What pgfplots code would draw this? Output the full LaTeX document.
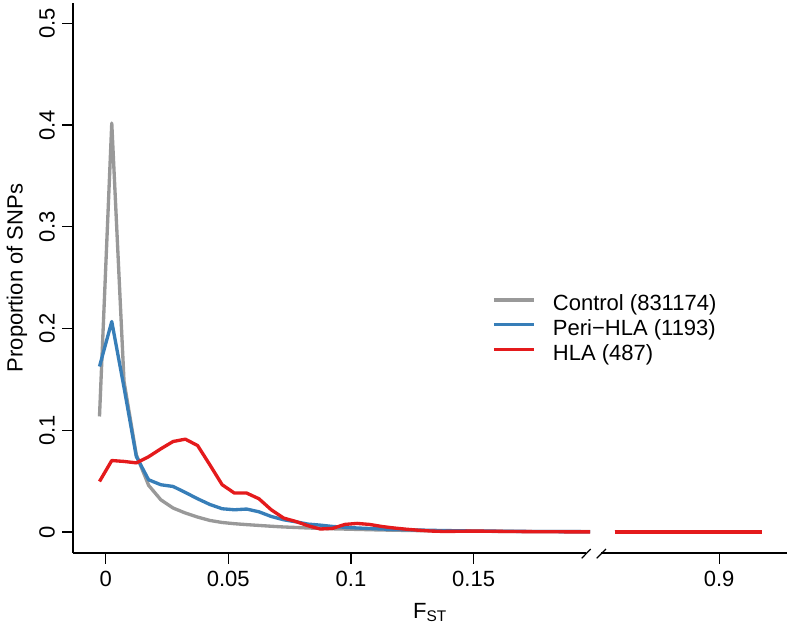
\documentclass[border=0pt]{standalone}
\usepackage{fontspec}
\setmainfont{Liberation Sans}
\usepackage{pgfplots}
\usepackage{pgfplotstable}
\pgfplotsset{compat=1.18}
\definecolor{ctrlgray}{HTML}{999999}
\definecolor{periblue}{HTML}{377EB8}
\definecolor{hlared}{HTML}{E41A1C}
\newcommand{\lbl}{\fontsize{16.5}{20}\selectfont}

% F_ST bins (midpoints), proportion of SNPs per group
\pgfplotstableread{
x       ctrl    peri    hla
-0.0025 0.1136  0.1627  0.0497
0.0025  0.4020  0.2069  0.0703
0.0075  0.1480  0.1420  0.0694
0.0125  0.0760  0.0743  0.0680
0.0175  0.0460  0.0514  0.0740
0.0225  0.0317  0.0465  0.0818
0.0275  0.0236  0.0448  0.0890
0.0325  0.0187  0.0389  0.0913
0.0375  0.0147  0.0327  0.0850
0.0425  0.0114  0.0271  0.0660
0.0475  0.0094  0.0229  0.0465
0.0525  0.0082  0.0219  0.0383
0.0575  0.0073  0.0226  0.0383
0.0625  0.0065  0.0199  0.0327
0.0675  0.0057  0.0153  0.0219
0.0725  0.0050  0.0121  0.0138
0.0775  0.0045  0.0101  0.0104
0.0825  0.0040  0.0078  0.0062
0.0875  0.0036  0.0068  0.0030
0.0925  0.0032  0.0055  0.0036
0.0975  0.0029  0.0047  0.0075
0.1025  0.0026  0.0040  0.0085
0.1075  0.0023  0.0035  0.0075
0.1125  0.0020  0.0030  0.0055
0.1175  0.0018  0.0026  0.0040
0.1225  0.0016  0.0023  0.0028
0.1275  0.0014  0.0020  0.0018
0.1325  0.0012  0.0017  0.0010
0.1375  0.0011  0.0015  0.0006
0.1425  0.0010  0.0013  0.0007
0.1475  0.0009  0.0011  0.0009
0.1525  0.0008  0.0010  0.0009
0.1575  0.0007  0.0009  0.0008
0.1625  0.0007  0.0008  0.0006
0.1675  0.0006  0.0007  0.0005
0.1725  0.0006  0.0006  0.0004
0.1775  0.0005  0.0005  0.0003
0.1825  0.0005  0.0005  0.0003
0.1875  0.0004  0.0004  0.0002
0.1925  0.0004  0.0004  0.0002
0.1975  0.0004  0.0003  0.0002
}\lowfst

\pgfplotstableread{
x       ctrl    peri    hla
0.8575  0       0       0
0.8675  0       0       0
0.8775  0       0       0
0.8875  0       0       0
0.8975  0       0       0
0.9075  0       0       0
0.9175  0       0       0
}\highfst

\pgfplotsset{
  brk/.style={scale only axis, clip=false, height=412.5pt,
    ymin=-0.0206, ymax=0.52,
    axis x line*=bottom,
    x axis line style={-, line width=0.9pt},
    y axis line style={-, line width=0.9pt},
    every tick/.style={black, line width=0.9pt},
    tick align=outside, major tick length=8pt,
    /pgf/number format/fixed,
    /pgf/number format/assume math mode=true,
    tick label style={font=\lbl},
    every axis plot/.append style={line width=2.5pt, line join=round}},
}

\begin{document}
\lbl
\begin{tikzpicture}
\useasboundingbox (0,0) rectangle (591.75pt,-468.75pt);

\begin{axis}[brk, at={(54.75pt,-414.75pt)}, anchor=south west, width=384.75pt,
  xmin=-0.0133, xmax=0.1958, axis y line*=left,
  xtick={0,0.05,0.1,0.15}, ytick={0,0.1,0.2,0.3,0.4,0.5},
  yticklabel style={rotate=90, anchor=south},
  legend cell align=left,
  legend style={draw=none, fill=none, font=\lbl, at={(0.8168,0.4698)}, anchor=north west,
    inner sep=0pt, column sep=13pt,
    nodes={inner sep=0pt, text height=12pt, text depth=6.5pt}},
  legend image code/.code={\draw[#1, line width=2.5pt] (0pt,5.5pt) -- (30pt,5.5pt);}]
\addplot[ctrlgray] table[x=x, y=ctrl] {\lowfst};
\addplot[periblue] table[x=x, y=peri] {\lowfst};
\addplot[hlared] table[x=x, y=hla] {\lowfst};
\legend{Control (831174), Peri−HLA (1193), HLA (487)}
\end{axis}

\begin{axis}[brk, at={(450.75pt,-414.75pt)}, anchor=south west, width=139.5pt,
  xmin=0.852, xmax=0.9276, axis y line=none, xtick={0.9}]
\addplot[ctrlgray] table[x=x, y=ctrl] {\highfst};
\addplot[periblue] table[x=x, y=peri] {\highfst};
\addplot[hlared] table[x=x, y=hla] {\highfst};
\end{axis}

% axis break marks
\draw[line width=0.9pt] (436.3pt,-418.7pt) -- (443pt,-411.75pt);
\draw[line width=0.9pt] (447.5pt,-418.7pt) -- (454.5pt,-411.75pt);

\node[anchor=base] at (322.5pt,-463.5pt) {F\textsubscript{ST}};
\node[rotate=90] at (12.75pt,-208.5pt) {Proportion of SNPs};
\end{tikzpicture}
\end{document}
